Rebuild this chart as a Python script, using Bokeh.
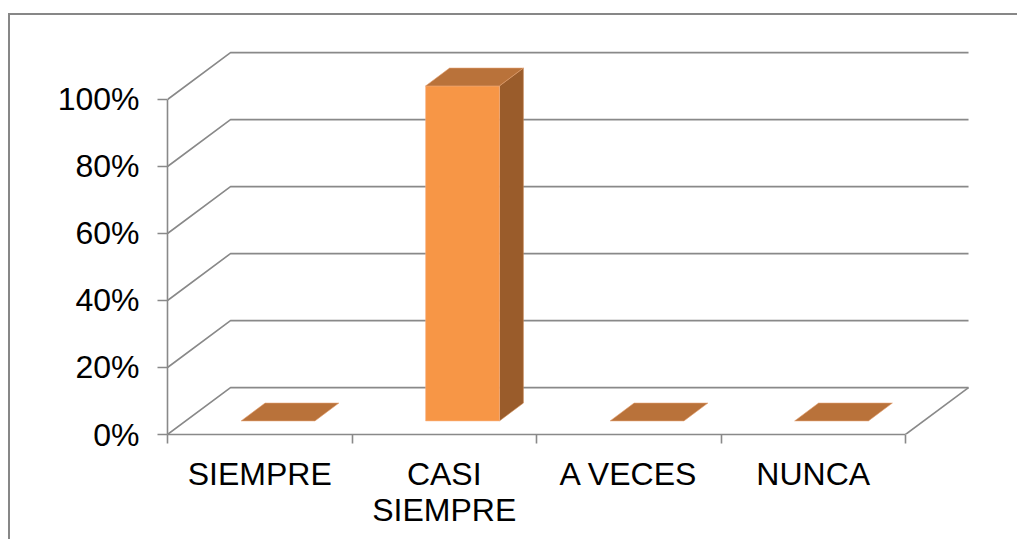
from bokeh.plotting import figure
from bokeh.models import FixedTicker, Range1d
from bokeh.embed import file_html
from bokeh.resources import INLINE

# ---- data ----
categories = ["SIEMPRE", "CASI\nSIEMPRE", "A VECES", "NUNCA"]
values = [0, 100, 0, 0]
y_ticks = [0, 20, 40, 60, 80, 100]
y_tick_labels = ["0%", "20%", "40%", "60%", "80%", "100%"]

# ---- style / geometry ----
FONT = "Liberation Sans"
GRID_COLOR = "#898989"
FRONT = "#F79646"
TOP = "#B9723A"
SIDE = "#9A5C2B"
DEPTH_X = 0.3415     # full floor depth, in category units
DEPTH_Y = 14.0       # full floor depth, in percent units
BAR_W = 0.40
F0, F1 = 0.29, 0.67  # bar front/back depth fractions

n = len(categories)


def proj(x, y, f):
    return x + f * DEPTH_X, y + f * DEPTH_Y


p = figure(frame_width=812, frame_height=388,
           x_range=Range1d(0, 4.401), y_range=Range1d(0, 115.82),
           min_border_left=157, min_border_top=31, min_border_right=38,
           min_border_bottom=105, output_backend="svg", toolbar_location=None)
p.styles = {"border-top": "2px solid #878787", "border-left": "2px solid #878787",
            "position": "relative", "top": "13px", "left": "8px"}
p.outline_line_color = None
p.xgrid.visible = False
p.ygrid.visible = False
p.background_fill_color = "white"
p.border_fill_color = "white"

# ---- 3D gridlines (back wall + left wall) ----
gx, gy = [], []
for t in y_ticks:
    bx0, by0 = proj(0, t, 1)
    bx1, by1 = proj(n, t, 1)
    gx.append([0, bx0, bx1])
    gy.append([t, by0, by1])
p.multi_line(gx, gy, line_color=GRID_COLOR, line_width=1.6)
# floor right edge
fx, fy = proj(n, 0, 1)
p.line([n, fx], [0, fy], line_color=GRID_COLOR, line_width=1.6)

# ---- bars ----
front_xs, front_ys, side_xs, side_ys, top_xs, top_ys = [], [], [], [], [], []
for i, v in enumerate(values):
    c = i + 0.5
    x0, x1 = c - BAR_W / 2, c + BAR_W / 2
    # top face
    a = proj(x0, v, F0); b = proj(x1, v, F0); cc = proj(x1, v, F1); d = proj(x0, v, F1)
    top_xs.append([a[0], b[0], cc[0], d[0]])
    top_ys.append([a[1], b[1], cc[1], d[1]])
    if v > 0:
        a0 = proj(x0, 0, F0); b0 = proj(x1, 0, F0)
        front_xs.append([a0[0], b0[0], b[0], a[0]])
        front_ys.append([a0[1], b0[1], b[1], a[1]])
        s0 = proj(x1, 0, F1)
        side_xs.append([b0[0], s0[0], cc[0], b[0]])
        side_ys.append([b0[1], s0[1], cc[1], b[1]])

p.patches(side_xs, side_ys, fill_color=SIDE, line_color="#C98A55", line_width=0.6)
p.patches(front_xs, front_ys, fill_color=FRONT, line_color="#F9B283", line_width=0.6)
p.patches(top_xs, top_ys, fill_color=TOP, line_color="#E2A070", line_width=0.6)

# ---- axes ----
ya = p.yaxis[0]
ya.ticker = FixedTicker(ticks=y_ticks)
ya.major_label_overrides = {t: l for t, l in zip(y_ticks, y_tick_labels)}
ya.bounds = (0, 100)
ya.axis_line_color = GRID_COLOR
ya.axis_line_width = 1.6
ya.major_tick_line_color = GRID_COLOR
ya.major_tick_line_width = 1.6
ya.major_tick_out = 10
ya.major_tick_in = 0
ya.minor_tick_line_color = None
ya.major_label_text_font = FONT
ya.major_label_text_font_size = "32px"
ya.major_label_text_color = "black"
ya.major_label_standoff = 18

xa = p.xaxis[0]
centers = [i + 0.5 for i in range(n)]
xa.ticker = FixedTicker(ticks=centers, minor_ticks=list(range(n + 1)))
xa.major_label_overrides = {c: l for c, l in zip(centers, categories)}
xa.bounds = (0, n)
xa.axis_line_color = GRID_COLOR
xa.axis_line_width = 1.6
xa.major_tick_line_color = None
xa.major_tick_out = 0
xa.major_tick_in = 0
xa.minor_tick_line_color = GRID_COLOR
xa.minor_tick_line_width = 1.6
xa.minor_tick_out = 9
xa.minor_tick_in = 0
xa.major_label_text_font = FONT
xa.major_label_text_font_size = "32px"
xa.major_label_text_line_height = 1.0
xa.major_label_text_color = "black"
xa.major_label_standoff = 12

open("out.html", "w").write(file_html(p, INLINE))
